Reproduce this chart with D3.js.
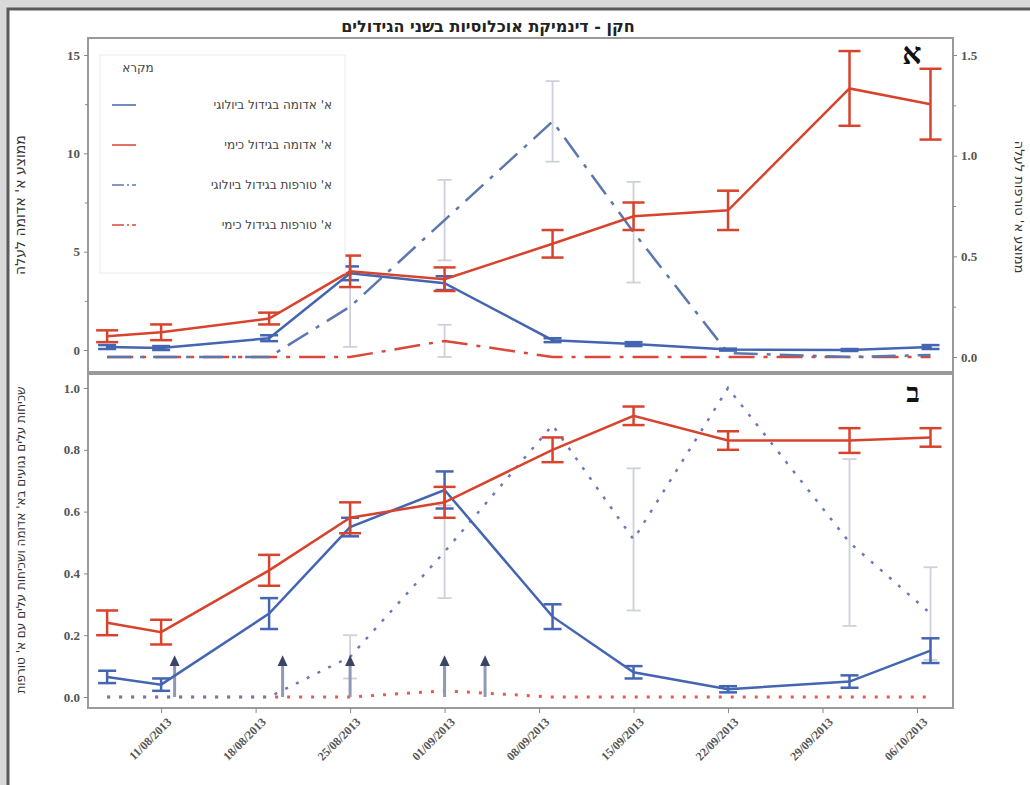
<!DOCTYPE html>
<html lang="he">
<head>
<meta charset="utf-8">
<script src="https://cdn.jsdelivr.net/npm/d3@7"></script>
<style>
  html, body { margin: 0; padding: 0; background: #d9d9d9; }
  svg { display: block; }
</style>
</head>
<body>
<svg id="chart" width="1030" height="785"></svg>
<script>
// ---- data -------------------------------------------------------------
const sampleDates = ["07/08/2013","11/08/2013","19/08/2013","25/08/2013","01/09/2013",
                     "09/09/2013","15/09/2013","22/09/2013","01/10/2013","07/10/2013"];
const tickDates = ["11/08/2013","18/08/2013","25/08/2013","01/09/2013","08/09/2013",
                   "15/09/2013","22/09/2013","29/09/2013","06/10/2013"];
const releaseDates = ["12/08/2013","20/08/2013","25/08/2013","01/09/2013","04/09/2013"];

// panel A: mean per leaf
const redMiteBio      = [0.15, 0.1, 0.6, 3.9, 3.4, 0.5, 0.3, 0.02, 0.0, 0.15];
const redMiteBioErr   = [0.1, 0.1, 0.15, 0.35, 0.35, 0.1, 0.1, 0.05, 0.05, 0.1];
const redMiteChem     = [0.7, 0.9, 1.6, 4.0, 3.6, 5.4, 6.8, 7.1, 13.3, 12.5];
const redMiteChemErr  = [0.3, 0.4, 0.3, 0.8, 0.6, 0.7, 0.7, 1.0, 1.9, 1.8];
const predBio         = [0, 0, 0, 0.25, 0.68, 1.17, 0.62, 0.02, 0, 0.01];
const predBioErr      = [0, 0, 0, 0.2, 0.2, 0.2, 0.25, 0, 0, 0];
const predChem        = [0, 0, 0, 0, 0.08, 0, 0, 0, 0, 0];
const predChemErr     = [0, 0, 0, 0, 0.08, 0, 0, 0, 0, 0];

// panel B: share of infested leaves
const freqRedBio      = [0.065, 0.04, 0.27, 0.55, 0.67, 0.26, 0.08, 0.025, 0.05, 0.15];
const freqRedBioErr   = [0.02, 0.02, 0.05, 0.03, 0.06, 0.04, 0.02, 0.01, 0.02, 0.04];
const freqRedChem     = [0.24, 0.21, 0.41, 0.58, 0.63, 0.80, 0.91, 0.83, 0.83, 0.84];
const freqRedChemErr  = [0.04, 0.04, 0.05, 0.05, 0.05, 0.04, 0.03, 0.03, 0.04, 0.03];
const freqPredBio     = [0, 0, 0, 0.13, 0.47, 0.88, 0.51, 1.0, 0.5, 0.27];
const freqPredBioErr  = [0, 0, 0, 0.07, 0.15, 0.0, 0.23, 0.0, 0.27, 0.15];
const freqPredChem    = [0, 0, 0, 0, 0.02, 0, 0, 0, 0, 0];

const leftTicksA  = [0, 5, 10, 15];
const rightTicksA = [0, 0.5, 1.0, 1.5];
const ticksB      = [0, 0.2, 0.4, 0.6, 0.8, 1.0];

const titleText = "חקן - דינמיקת אוכלוסיות בשני הגידולים";
const legendTitle = "מקרא";
const legendLabels = ["א' אדומה בגידול ביולוגי", "א' אדומה בגידול כימי",
                      "א' טורפות בגידול ביולוגי", "א' טורפות בגידול כימי"];
const yTitleLeftA  = "ממוצע א' אדומה לעלה";
const yTitleRightA = "ממוצע א' טורפות לעלה";
const yTitleB      = "שכיחות עלים נגועים בא' אדומה ושכיחות עלים עם א' טורפות";

// ---- setup ------------------------------------------------------------
const parse = d3.timeParse("%d/%m/%Y");
const dates = sampleDates.map(parse);

const svg = d3.select("#chart");
const C = { blue: "#4465b1", red: "#d7432d", blueDash: "#5b77ad", redDash: "#d9483a",
            blueDot: "#6d78b6", redDot: "#e05d52", err: "#c9cdd9", axis: "#9a9a9a", text: "#555" };
const serif = "'Liberation Serif', 'DejaVu Serif', serif";
const sans = "'DejaVu Sans', 'Liberation Sans', sans-serif";

// page frame (open on the right side)
svg.append("rect").attr("x", 8).attr("y", 9).attr("width", 1040).attr("height", 790)
   .attr("fill", "#fff").attr("stroke", "#5a5a5a").attr("stroke-width", 3);

const L = 88, R = 953;
const x = d3.scaleTime()
  .domain([new Date(2013, 7, 5, 14), new Date(2013, 9, 8, 16)])
  .range([L, R]);

const yA  = d3.scaleLinear().domain([0, 15]).range([350, 55]);
const yAR = d3.scaleLinear().domain([0, 1.5]).range([357, 55]);
const yB  = d3.scaleLinear().domain([0, 1]).range([697, 388]);

// panel frames
const panA = { top: 38, bottom: 372 }, panB = { top: 374, bottom: 708 };
[panA, panB].forEach(p => {
  svg.append("rect").attr("x", L).attr("y", p.top).attr("width", R - L).attr("height", p.bottom - p.top)
     .attr("fill", "none").attr("stroke", C.axis).attr("stroke-width", 2);
});

// title
svg.append("text").attr("x", 488).attr("y", 32).attr("text-anchor", "middle")
   .attr("font-family", sans).attr("font-weight", "bold").attr("font-size", 16).attr("fill", "#222")
   .attr("direction", "rtl").text(titleText);

// axes
function styleAxis(g) {
  g.select(".domain").remove();
  g.selectAll(".tick line").attr("stroke", "#888");
  g.selectAll(".tick text").attr("font-family", serif).attr("font-weight", "bold")
   .attr("font-size", 13).attr("fill", C.text);
}
svg.append("g").attr("transform", `translate(${L},0)`)
   .call(d3.axisLeft(yA).tickValues(leftTicksA).tickSize(4).tickPadding(4)).call(styleAxis);
svg.append("g").attr("transform", `translate(${L},0)`)
   .call(d3.axisLeft(yA).tickValues([2.5, 7.5, 12.5]).tickSize(3).tickFormat(""))
   .call(styleAxis);
svg.append("g").attr("transform", `translate(${R},0)`)
   .call(d3.axisRight(yAR).tickValues(rightTicksA).tickSize(4).tickPadding(4).tickFormat(d3.format(".1f")))
   .call(styleAxis);
svg.append("g").attr("transform", `translate(${R},0)`)
   .call(d3.axisRight(yAR).tickValues([0.25, 0.75, 1.25]).tickSize(3).tickFormat(""))
   .call(styleAxis);
svg.append("g").attr("transform", `translate(${L},0)`)
   .call(d3.axisLeft(yB).tickValues(ticksB).tickSize(4).tickPadding(4).tickFormat(d3.format(".1f")))
   .call(styleAxis);

const xAxis = svg.append("g").attr("transform", `translate(0,${panB.bottom})`)
   .call(d3.axisBottom(x).tickValues(tickDates.map(parse)).tickSize(5).tickFormat(d3.timeFormat("%d/%m/%Y")));
styleAxis(xAxis);
xAxis.selectAll(".tick text").attr("font-size", 12)
   .attr("text-anchor", "end").attr("dy", 0).attr("dx", 0)
   .attr("transform", "translate(5,9) rotate(-45)");

// axis titles
function vTitle(xp, yp, rot, txt, size) {
  svg.append("text").attr("transform", `translate(${xp},${yp}) rotate(${rot})`)
     .attr("text-anchor", "middle").attr("font-family", sans).attr("font-size", size)
     .attr("fill", "#333").attr("direction", "rtl").text(txt);
}
vTitle(25, 205, -90, yTitleLeftA, 14);
vTitle(1015, 207, 90, yTitleRightA, 13);
vTitle(25, 540, -90, yTitleB, 12);

// panel letters
svg.append("text").attr("x", 912).attr("y", 64).attr("text-anchor", "middle")
   .attr("font-family", serif).attr("font-weight", "bold").attr("font-size", 30).attr("fill", "#111").text("א");
svg.append("text").attr("x", 913).attr("y", 402).attr("text-anchor", "middle")
   .attr("font-family", serif).attr("font-weight", "bold").attr("font-size", 28).attr("fill", "#111").text("ב");

// ---- drawing helpers ---------------------------------------------------
function errorBars(vals, errs, y, color, width, cap, opacity) {
  const g = svg.append("g").attr("stroke", color).attr("stroke-width", width).attr("opacity", opacity);
  vals.forEach((v, i) => {
    const e = errs[i];
    if (!e) return;
    const cx = x(dates[i]);
    g.append("line").attr("x1", cx).attr("x2", cx).attr("y1", y(v - e)).attr("y2", y(v + e));
    g.append("line").attr("x1", cx - cap).attr("x2", cx + cap).attr("y1", y(v - e)).attr("y2", y(v - e));
    g.append("line").attr("x1", cx - cap).attr("x2", cx + cap).attr("y1", y(v + e)).attr("y2", y(v + e));
  });
}
function line(vals, y, color, width, dash) {
  const gen = d3.line().x((d, i) => x(dates[i])).y(d => y(d));
  svg.append("path").datum(vals).attr("d", gen).attr("fill", "none")
     .attr("stroke", color).attr("stroke-width", width)
     .attr("stroke-dasharray", dash || null).attr("stroke-linecap", "butt");
}

// ---- panel A ----------------------------------------------------------
errorBars(predBio, predBioErr, yAR, C.err, 1.8, 7, 0.9);
errorBars(predChem, predChemErr, yAR, C.err, 1.8, 7, 0.9);
line(predChem, yAR, C.redDash, 2.5, "26,9,4,9");
line(predBio, yAR, C.blueDash, 2.5, "24,9,4,9");
line(redMiteBio, yA, C.blue, 2.5);
errorBars(redMiteBio, redMiteBioErr, yA, C.blue, 2.5, 9, 1);
line(redMiteChem, yA, C.red, 2.5);
errorBars(redMiteChem, redMiteChemErr, yA, C.red, 2.5, 11, 1);

// legend
const lg = svg.append("g").attr("transform", "translate(100,55)");
lg.append("rect").attr("width", 245).attr("height", 218).attr("fill", "#fff").attr("stroke", "#ececec");
lg.append("text").attr("x", 38).attr("y", 17).attr("text-anchor", "middle").attr("font-family", sans)
  .attr("font-size", 12).attr("fill", "#444").attr("direction", "rtl").text(legendTitle);
const legendStyles = [
  { c: C.blue, dash: null }, { c: C.red, dash: null },
  { c: C.blueDash, dash: "12,3,2,3" }, { c: C.redDash, dash: "12,3,2,3" }
];
legendLabels.forEach((t, i) => {
  const yy = 50 + i * 40;
  lg.append("line").attr("x1", 12).attr("x2", 36).attr("y1", yy).attr("y2", yy)
    .attr("stroke", legendStyles[i].c).attr("stroke-width", 2).attr("stroke-dasharray", legendStyles[i].dash)
    .attr("opacity", 0.75);
  lg.append("text").attr("x", 232).attr("y", yy + 4).attr("text-anchor", "start").attr("direction", "rtl")
    .attr("font-family", sans).attr("font-size", 12).attr("fill", "#444").text(t);
});

// ---- panel B ----------------------------------------------------------
errorBars(freqPredBio, freqPredBioErr, yB, C.err, 1.8, 7, 0.9);
line(freqPredChem, yB, C.redDot, 3, "3,9");
line(freqPredBio, yB, C.blueDot, 2.5, "3,9");

// predator release arrows
const arrows = svg.append("g");
releaseDates.map(parse).forEach(d => {
  const ax = x(d);
  arrows.append("line").attr("x1", ax).attr("x2", ax).attr("y1", yB(0)).attr("y2", yB(0.11))
    .attr("stroke", "#9198b4").attr("stroke-width", 3);
  arrows.append("path")
    .attr("d", `M${ax - 5},${yB(0.1)} L${ax},${yB(0.135)} L${ax + 5},${yB(0.1)} Z`)
    .attr("fill", "#3c4466");
});

line(freqRedBio, yB, C.blue, 2.5);
errorBars(freqRedBio, freqRedBioErr, yB, C.blue, 2.5, 9, 1);
line(freqRedChem, yB, C.red, 2.5);
errorBars(freqRedChem, freqRedChemErr, yB, C.red, 2.5, 11, 1);
</script>
</body>
</html>
